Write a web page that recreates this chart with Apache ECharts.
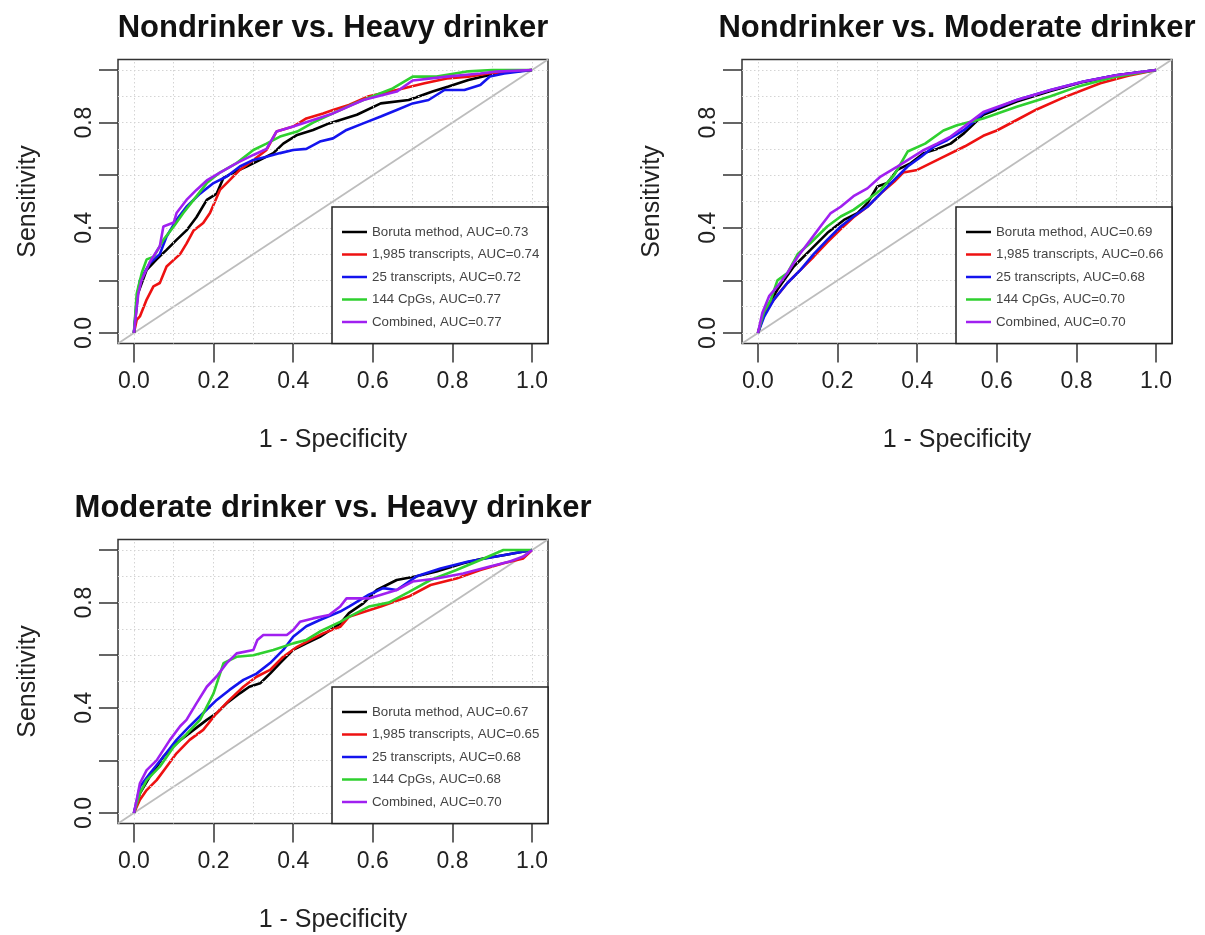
<!DOCTYPE html>
<html>
<head>
<meta charset="utf-8" />
<title>ROC curves</title>
<script src="https://cdn.jsdelivr.net/npm/echarts@6.0.0/dist/echarts.min.js"></script>
<style>
  html, body { margin: 0; padding: 0; background: #fff; }
  #main { width: 1205px; height: 935px; }
</style>
</head>
<body>
<div id="main"></div>
<script>
// panel titles and legend text
var titles = ['Nondrinker vs. Heavy drinker', 'Nondrinker vs. Moderate drinker', 'Moderate drinker vs. Heavy drinker'];
var methods = ['Boruta method', '1,985 transcripts', '25 transcripts', '144 CpGs', 'Combined'];
var auc1 = ['0.73', '0.74', '0.72', '0.77', '0.77'];
var auc2 = ['0.69', '0.66', '0.68', '0.70', '0.70'];
var auc3 = ['0.67', '0.65', '0.68', '0.68', '0.70'];
var tickValues = [0, 0.2, 0.4, 0.6, 0.8, 1.0];
var yLabelValues = [0, 0.4, 0.8];
var gridSteps = [0, 0.1, 0.2, 0.3, 0.4, 0.5, 0.6, 0.7, 0.8, 0.9, 1.0];

// [1 - specificity, sensitivity]
// Nondrinker vs. Heavy drinker
var p1Boruta = [[0,0],[0.01,0.15],[0.032,0.24],[0.057,0.28],[0.082,0.316],[0.107,0.354],[0.132,0.39],[0.157,0.44],[0.183,0.506],[0.208,0.53],[0.225,0.59],[0.25,0.61],[0.283,0.633],[0.317,0.658],[0.35,0.684],[0.375,0.72],[0.41,0.753],[0.45,0.772],[0.49,0.797],[0.56,0.83],[0.62,0.873],[0.69,0.886],[0.75,0.918],[0.79,0.937],[0.84,0.962],[0.89,0.98],[0.94,0.994],[1,1]];
var p1T1985 = [[0,0],[0.007,0.05],[0.015,0.063],[0.032,0.127],[0.049,0.177],[0.065,0.19],[0.082,0.253],[0.1,0.278],[0.116,0.3],[0.132,0.34],[0.15,0.39],[0.174,0.418],[0.191,0.456],[0.216,0.544],[0.233,0.57],[0.266,0.62],[0.3,0.658],[0.333,0.696],[0.358,0.766],[0.4,0.785],[0.433,0.816],[0.475,0.835],[0.5,0.848],[0.54,0.867],[0.59,0.9],[0.66,0.924],[0.73,0.95],[0.786,0.968],[0.84,0.975],[0.89,0.987],[1,1]];
var p1T25 = [[0,0],[0.007,0.127],[0.015,0.2],[0.04,0.266],[0.065,0.3],[0.082,0.367],[0.107,0.43],[0.132,0.48],[0.166,0.53],[0.2,0.57],[0.233,0.595],[0.266,0.633],[0.3,0.658],[0.333,0.67],[0.367,0.684],[0.4,0.696],[0.433,0.7],[0.467,0.728],[0.5,0.74],[0.534,0.772],[0.576,0.797],[0.62,0.823],[0.66,0.848],[0.7,0.873],[0.74,0.886],[0.78,0.924],[0.83,0.924],[0.87,0.943],[0.894,0.975],[0.93,0.987],[1,1]];
var p1CpG = [[0,0],[0.007,0.15],[0.02,0.23],[0.032,0.28],[0.05,0.29],[0.074,0.354],[0.1,0.405],[0.124,0.456],[0.15,0.506],[0.183,0.57],[0.216,0.61],[0.258,0.646],[0.3,0.696],[0.333,0.72],[0.367,0.747],[0.41,0.766],[0.45,0.8],[0.5,0.835],[0.55,0.87],[0.6,0.9],[0.65,0.93],[0.7,0.975],[0.76,0.975],[0.84,0.995],[0.9,1],[1,1]];
var p1Comb = [[0,0],[0.011,0.15],[0.019,0.2],[0.04,0.27],[0.065,0.33],[0.074,0.405],[0.1,0.42],[0.107,0.456],[0.132,0.506],[0.157,0.544],[0.183,0.58],[0.216,0.61],[0.258,0.646],[0.3,0.677],[0.333,0.7],[0.358,0.766],[0.4,0.785],[0.45,0.81],[0.5,0.835],[0.576,0.886],[0.66,0.918],[0.7,0.96],[0.786,0.975],[0.87,0.987],[0.91,0.994],[1,1]];

// Nondrinker vs. Moderate drinker
var p2Boruta = [[0,0],[0.015,0.076],[0.049,0.165],[0.09,0.253],[0.132,0.316],[0.174,0.38],[0.216,0.43],[0.25,0.456],[0.275,0.494],[0.3,0.557],[0.325,0.57],[0.35,0.62],[0.384,0.646],[0.417,0.684],[0.45,0.7],[0.484,0.72],[0.518,0.76],[0.566,0.83],[0.65,0.88],[0.735,0.92],[0.818,0.955],[0.9,0.98],[1,1]];
var p2T1985 = [[0,0],[0.015,0.07],[0.04,0.127],[0.074,0.19],[0.107,0.24],[0.14,0.29],[0.174,0.345],[0.208,0.395],[0.24,0.44],[0.275,0.48],[0.308,0.53],[0.342,0.575],[0.365,0.61],[0.4,0.62],[0.433,0.645],[0.466,0.67],[0.52,0.71],[0.566,0.75],[0.6,0.77],[0.65,0.81],[0.7,0.85],[0.767,0.895],[0.86,0.95],[0.93,0.978],[1,1]];
var p2T25 = [[0,0],[0.015,0.06],[0.04,0.127],[0.074,0.19],[0.107,0.24],[0.14,0.3],[0.174,0.354],[0.208,0.405],[0.24,0.443],[0.275,0.48],[0.308,0.53],[0.342,0.582],[0.376,0.633],[0.41,0.67],[0.443,0.71],[0.476,0.734],[0.518,0.772],[0.566,0.835],[0.65,0.886],[0.735,0.924],[0.818,0.956],[0.9,0.98],[1,1]];
var p2CpG = [[0,0],[0.015,0.08],[0.032,0.125],[0.049,0.2],[0.074,0.228],[0.1,0.3],[0.132,0.342],[0.174,0.405],[0.208,0.443],[0.24,0.468],[0.275,0.506],[0.308,0.544],[0.342,0.6],[0.376,0.69],[0.42,0.72],[0.466,0.77],[0.5,0.79],[0.566,0.816],[0.65,0.86],[0.735,0.9],[0.8,0.935],[0.9,0.975],[1,1]];
var p2Comb = [[0,0],[0.011,0.076],[0.028,0.14],[0.049,0.177],[0.074,0.228],[0.1,0.29],[0.132,0.354],[0.157,0.405],[0.183,0.456],[0.208,0.48],[0.24,0.52],[0.275,0.55],[0.308,0.595],[0.35,0.633],[0.384,0.665],[0.417,0.696],[0.45,0.72],[0.484,0.747],[0.518,0.785],[0.566,0.84],[0.65,0.886],[0.735,0.924],[0.818,0.956],[0.9,0.98],[1,1]];

// Moderate drinker vs. Heavy drinker
var p3Boruta = [[0,0],[0.015,0.075],[0.04,0.138],[0.074,0.214],[0.107,0.266],[0.15,0.316],[0.183,0.354],[0.208,0.38],[0.233,0.417],[0.266,0.455],[0.29,0.48],[0.317,0.493],[0.342,0.53],[0.367,0.57],[0.4,0.62],[0.433,0.645],[0.467,0.67],[0.518,0.72],[0.54,0.76],[0.576,0.797],[0.61,0.848],[0.66,0.886],[0.71,0.9],[0.76,0.918],[0.827,0.95],[0.877,0.968],[0.928,0.98],[1,1]];
var p3T1985 = [[0,0],[0.015,0.05],[0.032,0.087],[0.057,0.125],[0.082,0.176],[0.107,0.227],[0.14,0.278],[0.174,0.316],[0.208,0.38],[0.24,0.43],[0.275,0.48],[0.308,0.518],[0.342,0.544],[0.375,0.594],[0.41,0.632],[0.443,0.658],[0.475,0.683],[0.518,0.708],[0.54,0.746],[0.62,0.785],[0.69,0.823],[0.745,0.867],[0.81,0.892],[0.87,0.924],[0.928,0.95],[0.978,0.968],[1,1]];
var p3T25 = [[0,0],[0.015,0.1],[0.04,0.15],[0.074,0.214],[0.107,0.278],[0.14,0.33],[0.174,0.38],[0.208,0.43],[0.24,0.468],[0.275,0.506],[0.308,0.53],[0.342,0.57],[0.375,0.62],[0.4,0.67],[0.433,0.71],[0.467,0.734],[0.518,0.766],[0.54,0.785],[0.59,0.83],[0.626,0.855],[0.66,0.848],[0.71,0.9],[0.77,0.93],[0.84,0.956],[0.91,0.975],[1,1]];
var p3CpG = [[0,0],[0.015,0.075],[0.032,0.125],[0.065,0.176],[0.1,0.252],[0.132,0.3],[0.166,0.354],[0.2,0.455],[0.225,0.57],[0.258,0.594],[0.3,0.6],[0.35,0.62],[0.4,0.645],[0.433,0.658],[0.467,0.69],[0.518,0.727],[0.54,0.746],[0.59,0.785],[0.64,0.8],[0.69,0.84],[0.745,0.886],[0.81,0.924],[0.87,0.962],[0.928,1],[1,1]];
var p3Comb = [[0,0],[0.007,0.05],[0.015,0.113],[0.032,0.163],[0.057,0.2],[0.09,0.277],[0.116,0.33],[0.132,0.354],[0.157,0.417],[0.183,0.48],[0.208,0.52],[0.233,0.57],[0.258,0.607],[0.3,0.62],[0.31,0.658],[0.325,0.677],[0.384,0.677],[0.4,0.696],[0.417,0.727],[0.45,0.74],[0.49,0.753],[0.518,0.785],[0.534,0.816],[0.59,0.816],[0.66,0.848],[0.7,0.88],[0.76,0.892],[0.827,0.911],[0.894,0.937],[0.944,0.956],[0.978,0.975],[1,1]];

var colors = ['#000000', '#ee1111', '#1414ee', '#2fd02f', '#a020f0'];

var panels = [
  { grid: { left: 118, top: 59.5 }, aucs: auc1, curves: [p1Boruta, p1T1985, p1T25, p1CpG, p1Comb] },
  { grid: { left: 742, top: 59.5 }, aucs: auc2, curves: [p2Boruta, p2T1985, p2T25, p2CpG, p2Comb] },
  { grid: { left: 118, top: 539.5 }, aucs: auc3, curves: [p3Boruta, p3T1985, p3T25, p3CpG, p3Comb] }
];
var GW = 430, GH = 284;

var grids = [], xAxes = [], yAxes = [], series = [], legends = [], graphics = [];

panels.forEach(function (p, i) {
  grids.push({
    left: p.grid.left, top: p.grid.top, width: GW, height: GH,
    show: true, borderColor: '#333', borderWidth: 1.5, backgroundColor: '#fff'
  });
  xAxes.push({
    type: 'value', gridIndex: i, min: -0.04, max: 1.04,
    name: '1 - Specificity', nameLocation: 'middle', nameGap: 84,
    nameTextStyle: { fontSize: 25, color: '#222' },
    axisLine: { show: false, onZero: false },
    axisTick: { show: true, inside: false, length: 19, customValues: tickValues, lineStyle: { color: '#333', width: 1.5 } },
    axisLabel: { customValues: tickValues, fontSize: 23, color: '#222', margin: 27,
      formatter: function (v) { return v.toFixed(1); } },
    splitLine: { show: false }
  });
  yAxes.push({
    type: 'value', gridIndex: i, min: -0.04, max: 1.04,
    name: 'Sensitivity', nameLocation: 'middle', nameGap: 77,
    nameTextStyle: { fontSize: 25, color: '#222' },
    axisLine: { show: false, onZero: false },
    axisTick: { show: true, inside: false, length: 19, customValues: tickValues, lineStyle: { color: '#333', width: 1.5 } },
    axisLabel: { customValues: yLabelValues, fontSize: 23, color: '#222', margin: 22, rotate: 90,
      formatter: function (v) { return v.toFixed(1); } },
    splitLine: { show: false }
  });

  var gridLines = [];
  gridSteps.forEach(function (s) { gridLines.push({ xAxis: s }); gridLines.push({ yAxis: s }); });
  // reference diagonal plus dotted grid
  series.push({
    type: 'line', name: 'diag' + i, xAxisIndex: i, yAxisIndex: i,
    data: [[-0.04, -0.04], [1.04, 1.04]], symbol: 'none', silent: true,
    lineStyle: { color: '#bdbdbd', width: 1.8 },
    markLine: {
      silent: true, symbol: 'none', label: { show: false },
      lineStyle: { color: '#d4d4d4', type: [1.5, 2.5], width: 1 },
      data: gridLines
    }
  });

  var names = [];
  p.curves.forEach(function (c, k) {
    var nm = methods[k] + ', AUC=' + p.aucs[k];
    names.push(nm);
    series.push({
      type: 'line', name: nm, xAxisIndex: i, yAxisIndex: i,
      data: c, symbol: 'none', color: colors[k],
      lineStyle: { color: colors[k], width: 2.6 }, z: 3 + k
    });
  });

  var gx = p.grid.left, gy = p.grid.top;
  graphics.push({
    type: 'rect', z: 20,
    shape: { x: gx + 214, y: gy + 147.5, width: GW - 214, height: GH - 147.5 },
    style: { fill: '#fff', stroke: '#222', lineWidth: 1.5 }
  });
  legends.push({
    data: names, orient: 'vertical', left: gx + 224, top: gy + 165.5,
    padding: 0, itemGap: 8.5, itemWidth: 25, itemHeight: 2.5, itemTextGap: 14,
    icon: 'rect', selectedMode: false, z: 30,
    textStyle: { fontSize: 13.3, color: '#444', lineHeight: 14 }
  });
  graphics.push({
    type: 'text', z: 30,
    style: { text: titles[i], x: gx + GW / 2, y: gy - 31.5, textAlign: 'center', textVerticalAlign: 'middle',
      font: 'bold 31px "Liberation Sans", Arial, sans-serif', fill: '#111' }
  });
});

var myChart = echarts.init(document.getElementById('main'));
myChart.setOption({
  animation: false,
  backgroundColor: '#fff',
  textStyle: { fontFamily: '"Liberation Sans", Arial, Helvetica, sans-serif' },
  grid: grids,
  xAxis: xAxes,
  yAxis: yAxes,
  legend: legends,
  graphic: graphics,
  series: series
});
</script>
</body>
</html>
